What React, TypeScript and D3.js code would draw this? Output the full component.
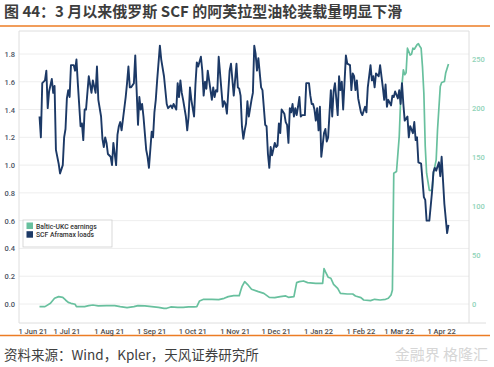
import { useEffect, useRef } from 'react'
import * as d3 from 'd3'

// SCF Aframax loads (left axis)
const scfLoads: [string, number][] = [
  ['2021-06-11', 1.35], ['2021-06-12', 1.2], ['2021-06-13', 1.59], ['2021-06-15', 1.61], ['2021-06-16', 1.68],
  ['2021-06-17', 1.41], ['2021-06-18', 1.53], ['2021-06-20', 1.62], ['2021-06-21', 1.52], ['2021-06-22', 1.57],
  ['2021-06-23', 1.11], ['2021-06-25', 1.01], ['2021-06-26', 0.94], ['2021-06-28', 1.0], ['2021-06-29', 1.2],
  ['2021-06-30', 1.26], ['2021-07-01', 1.48], ['2021-07-02', 1.54], ['2021-07-03', 1.49], ['2021-07-04', 1.72],
  ['2021-07-06', 1.72], ['2021-07-07', 1.68], ['2021-07-08', 1.76], ['2021-07-09', 1.59], ['2021-07-11', 1.28],
  ['2021-07-12', 1.3], ['2021-07-13', 1.18], ['2021-07-14', 1.4], ['2021-07-15', 1.4], ['2021-07-17', 1.64],
  ['2021-07-19', 1.52], ['2021-07-20', 1.61], ['2021-07-22', 1.52], ['2021-07-23', 1.71], ['2021-07-24', 1.47],
  ['2021-07-26', 1.35], ['2021-07-27', 1.19], ['2021-07-28', 1.13], ['2021-07-29', 1.2], ['2021-07-30', 1.16],
  ['2021-07-31', 1.08], ['2021-08-02', 1.06], ['2021-08-03', 1.0], ['2021-08-04', 1.16], ['2021-08-06', 1.0],
  ['2021-08-07', 1.22], ['2021-08-08', 1.28], ['2021-08-09', 1.31], ['2021-08-10', 1.25], ['2021-08-13', 1.49],
  ['2021-08-14', 1.59], ['2021-08-15', 1.71], ['2021-08-16', 1.56], ['2021-08-17', 1.56], ['2021-08-19', 1.59],
  ['2021-08-20', 1.79], ['2021-08-21', 1.54], ['2021-08-22', 1.29], ['2021-08-23', 1.49], ['2021-08-24', 1.4],
  ['2021-08-25', 1.44], ['2021-08-26', 1.35], ['2021-08-28', 1.11], ['2021-08-29', 1.06], ['2021-08-30', 0.98],
  ['2021-09-01', 1.24], ['2021-09-02', 1.2], ['2021-09-03', 1.38], ['2021-09-04', 1.47], ['2021-09-05', 1.61],
  ['2021-09-07', 1.86], ['2021-09-08', 1.76], ['2021-09-10', 1.64], ['2021-09-12', 1.44], ['2021-09-13', 1.41],
  ['2021-09-15', 1.43], ['2021-09-16', 1.41], ['2021-09-17', 1.44], ['2021-09-19', 1.4], ['2021-09-20', 1.59],
  ['2021-09-21', 1.49], ['2021-09-22', 1.61], ['2021-09-23', 1.52], ['2021-09-24', 1.47], ['2021-09-26', 1.35],
  ['2021-09-27', 1.25], ['2021-09-28', 1.35], ['2021-09-29', 1.56], ['2021-09-30', 1.47], ['2021-10-02', 1.35],
  ['2021-10-03', 1.58], ['2021-10-04', 1.74], ['2021-10-05', 1.71], ['2021-10-07', 1.78], ['2021-10-08', 1.68],
  ['2021-10-09', 1.5], ['2021-10-10', 1.6], ['2021-10-11', 1.55], ['2021-10-12', 1.68], ['2021-10-13', 1.61],
  ['2021-10-15', 1.47], ['2021-10-16', 1.56], ['2021-10-17', 1.49], ['2021-10-18', 1.54], ['2021-10-19', 1.53],
  ['2021-10-20', 1.78], ['2021-10-22', 1.54], ['2021-10-23', 1.42], ['2021-10-24', 1.46], ['2021-10-25', 1.44],
  ['2021-10-26', 1.37], ['2021-10-28', 1.68], ['2021-10-29', 1.73], ['2021-10-31', 1.5], ['2021-11-02', 1.73],
  ['2021-11-03', 1.56], ['2021-11-04', 1.55], ['2021-11-05', 1.5], ['2021-11-06', 1.28], ['2021-11-07', 1.19],
  ['2021-11-08', 1.25], ['2021-11-09', 1.3], ['2021-11-10', 1.46], ['2021-11-11', 1.35], ['2021-11-13', 1.47],
  ['2021-11-14', 1.52], ['2021-11-15', 1.86], ['2021-11-16', 1.8], ['2021-11-17', 1.68], ['2021-11-18', 1.77],
  ['2021-11-20', 1.56], ['2021-11-21', 1.54], ['2021-11-23', 1.29], ['2021-11-24', 1.28], ['2021-11-25', 1.08],
  ['2021-11-26', 0.98], ['2021-11-27', 1.13], ['2021-11-28', 1.07], ['2021-11-30', 1.16], ['2021-12-01', 1.13],
  ['2021-12-02', 1.14], ['2021-12-03', 1.3], ['2021-12-04', 1.23], ['2021-12-05', 1.4], ['2021-12-07', 1.37],
  ['2021-12-08', 1.31], ['2021-12-09', 1.29], ['2021-12-10', 1.16], ['2021-12-11', 1.41], ['2021-12-12', 1.38],
  ['2021-12-13', 1.44], ['2021-12-14', 1.35], ['2021-12-15', 1.41], ['2021-12-16', 1.36], ['2021-12-17', 1.42],
  ['2021-12-18', 1.49], ['2021-12-19', 1.35], ['2021-12-20', 1.36], ['2021-12-22', 1.36], ['2021-12-23', 1.59],
  ['2021-12-25', 1.59], ['2021-12-26', 1.5], ['2021-12-27', 1.44], ['2021-12-28', 1.44], ['2021-12-29', 1.4],
  ['2021-12-30', 1.32], ['2021-12-31', 1.41], ['2022-01-01', 1.25], ['2022-01-02', 1.42], ['2022-01-03', 1.06],
  ['2022-01-05', 1.23], ['2022-01-06', 1.26], ['2022-01-07', 1.17], ['2022-01-08', 1.2], ['2022-01-10', 1.54],
  ['2022-01-11', 1.35], ['2022-01-12', 1.53], ['2022-01-13', 1.59], ['2022-01-15', 1.36], ['2022-01-16', 1.64],
  ['2022-01-17', 1.54], ['2022-01-18', 1.6], ['2022-01-19', 1.4], ['2022-01-21', 1.79], ['2022-01-22', 1.73],
  ['2022-01-24', 1.72], ['2022-01-25', 1.54], ['2022-01-26', 1.66], ['2022-01-27', 1.64], ['2022-01-28', 1.54],
  ['2022-01-29', 1.61], ['2022-01-30', 1.48], ['2022-02-01', 1.38], ['2022-02-02', 1.36], ['2022-02-04', 1.42],
  ['2022-02-05', 1.38], ['2022-02-06', 1.56], ['2022-02-08', 1.72], ['2022-02-09', 1.61], ['2022-02-10', 1.64],
  ['2022-02-11', 1.56], ['2022-02-12', 1.66], ['2022-02-14', 1.64], ['2022-02-15', 1.72], ['2022-02-17', 1.56],
  ['2022-02-18', 1.47], ['2022-02-19', 1.58], ['2022-02-20', 1.42], ['2022-02-21', 1.47], ['2022-02-23', 1.43],
  ['2022-02-24', 1.5], ['2022-02-25', 1.49], ['2022-02-26', 1.53], ['2022-02-28', 1.48], ['2022-03-01', 1.54],
  ['2022-03-02', 1.44], ['2022-03-03', 1.59], ['2022-03-04', 1.44], ['2022-03-05', 1.32], ['2022-03-07', 1.35],
  ['2022-03-08', 1.2], ['2022-03-09', 1.28], ['2022-03-11', 1.23], ['2022-03-12', 1.31], ['2022-03-13', 1.18],
  ['2022-03-14', 1.2], ['2022-03-15', 1.02], ['2022-03-17', 1.01], ['2022-03-19', 0.77], ['2022-03-20', 0.75],
  ['2022-03-21', 0.6], ['2022-03-23', 0.6], ['2022-03-25', 0.81], ['2022-03-26', 0.95], ['2022-03-27', 0.98],
  ['2022-03-28', 0.96], ['2022-03-30', 1.02], ['2022-03-31', 0.92], ['2022-04-01', 1.06], ['2022-04-02', 0.89],
  ['2022-04-03', 0.72], ['2022-04-05', 0.51], ['2022-04-06', 0.57],
]

// Baltic-UKC earnings (right axis)
const balticEarnings: [string, number][] = [
  ['2021-06-11', -2.7], ['2021-06-15', -2.7], ['2021-06-19', 0.7], ['2021-06-22', 5.8], ['2021-06-25', 7.5],
  ['2021-06-28', 6.8], ['2021-06-30', 4.1], ['2021-07-02', 1.7], ['2021-07-04', 0.7], ['2021-07-07', -0.3],
  ['2021-07-08', -2.7], ['2021-07-11', -2.7], ['2021-07-14', -2.7], ['2021-07-17', -1.7], ['2021-07-20', -1.0],
  ['2021-07-24', -2.0], ['2021-07-30', -1.7], ['2021-08-05', -1.7], ['2021-08-09', -2.7], ['2021-08-14', -3.7],
  ['2021-08-19', -2.7], ['2021-08-22', -1.7], ['2021-08-27', -2.0], ['2021-09-01', -2.7], ['2021-09-06', -3.4],
  ['2021-09-10', -4.4], ['2021-09-12', -4.4], ['2021-09-15', -3.0], ['2021-09-20', -3.4], ['2021-09-24', -3.4],
  ['2021-09-28', -3.0], ['2021-10-02', -3.0], ['2021-10-04', -2.7], ['2021-10-06', 3.1], ['2021-10-09', 4.8],
  ['2021-10-15', 4.8], ['2021-10-20', 4.4], ['2021-10-24', 5.8], ['2021-10-27', 7.5], ['2021-10-31', 8.5],
  ['2021-11-04', 8.5], ['2021-11-05', 13.3], ['2021-11-06', 17.7], ['2021-11-08', 22.8], ['2021-11-10', 20.1],
  ['2021-11-13', 15.0], ['2021-11-18', 12.6], ['2021-11-22', 10.9], ['2021-11-26', 6.8], ['2021-11-30', 6.5],
  ['2021-12-04', 7.5], ['2021-12-08', 8.2], ['2021-12-10', 6.8], ['2021-12-14', 7.5], ['2021-12-16', 21.8],
  ['2021-12-18', 22.8], ['2021-12-21', 23.5], ['2021-12-24', 21.8], ['2021-12-30', 21.1], ['2022-01-04', 21.1],
  ['2022-01-05', 36.1], ['2022-01-06', 33.0], ['2022-01-08', 27.3], ['2022-01-10', 26.3], ['2022-01-12', 20.1],
  ['2022-01-15', 16.0], ['2022-01-17', 10.9], ['2022-01-22', 10.2], ['2022-01-26', 10.2], ['2022-01-28', 8.2],
  ['2022-02-01', 6.5], ['2022-02-03', 4.1], ['2022-02-08', 3.4], ['2022-02-11', 4.8], ['2022-02-15', 4.1],
  ['2022-02-19', 4.8], ['2022-02-21', 5.8], ['2022-02-23', 9.2], ['2022-02-24', 14.3], ['2022-02-25', 133.5],
  ['2022-02-27', 135.2], ['2022-03-01', 171], ['2022-03-02', 208], ['2022-03-04', 239], ['2022-03-05', 234],
  ['2022-03-06', 236], ['2022-03-07', 261], ['2022-03-09', 254], ['2022-03-10', 255], ['2022-03-11', 261],
  ['2022-03-12', 260], ['2022-03-14', 264.6], ['2022-03-15', 265.6], ['2022-03-16', 263], ['2022-03-17', 261],
  ['2022-03-18', 242], ['2022-03-19', 215], ['2022-03-20', 161], ['2022-03-21', 133.5], ['2022-03-23', 116],
  ['2022-03-25', 116], ['2022-03-26', 133.5], ['2022-03-28', 147], ['2022-03-29', 178], ['2022-03-31', 222],
  ['2022-04-01', 226], ['2022-04-03', 227], ['2022-04-04', 236], ['2022-04-06', 245],
]

const leftTicks = [0, 0.2, 0.4, 0.6, 0.8, 1.0, 1.2, 1.4, 1.6, 1.8]
const rightTicks = [0, 50, 100, 150, 200, 250]
const monthTicks = [
  '2021-06-01', '2021-07-01', '2021-08-01', '2021-09-01', '2021-10-01', '2021-11-01',
  '2021-12-01', '2022-01-01', '2022-02-01', '2022-03-01', '2022-04-01',
]
const legendItems = ['Baltic-UKC earnings', 'SCF Aframax loads']

const title = '图 44：3 月以来俄罗斯 SCF 的阿芙拉型油轮装载量明显下滑'
const source = '资料来源：Wind，Kpler，天风证券研究所'

const BLUE = '#1c3966'
const GREEN = '#68c09e'

export default function App() {
  const svgRef = useRef<SVGSVGElement>(null)

  useEffect(() => {
    if (!svgRef.current) return
    document.body.style.margin = '0'
    const width = 494
    const height = 367

    const svg = d3.select(svgRef.current)
    svg.selectAll('*').remove()
    svg.attr('width', width).attr('height', height)

    const parse = d3.timeParse('%Y-%m-%d')
    const plot = { left: 19, right: 469, top: 31, bottom: 323 }

    const x = d3.scaleTime()
      .domain([new Date(2021, 4, 27), new Date(2022, 3, 21)])
      .range([plot.left, plot.right])
    const yLeft = d3.scaleLinear().domain([0, 1.8]).range([304, 54])
    const yRight = d3.scaleLinear().domain([0, 250]).range([304, 59])

    // title + orange rules
    svg.append('text')
      .attr('x', 4).attr('y', 17)
      .attr('font-family', '"Noto Sans CJK SC", sans-serif')
      .attr('font-size', 15).attr('font-weight', 700)
      .attr('fill', '#3d3d3d')
      .text(title)
    svg.append('line')
      .attr('x1', 0).attr('x2', 490).attr('y1', 26).attr('y2', 26)
      .attr('stroke', '#ec7c24').attr('stroke-width', 1.5)
    svg.append('line')
      .attr('x1', 0).attr('x2', 490).attr('y1', 335.5).attr('y2', 335.5)
      .attr('stroke', '#ec7c24').attr('stroke-width', 1.5)

    // gridlines
    svg.append('g').selectAll('line')
      .data(leftTicks)
      .enter().append('line')
      .attr('x1', plot.left).attr('x2', plot.right)
      .attr('y1', d => yLeft(d)).attr('y2', d => yLeft(d))
      .attr('stroke', '#eeeeee').attr('stroke-width', 1)

    // frame
    const frame = svg.append('g').attr('stroke', '#dedede').attr('stroke-width', 1)
    frame.append('line').attr('x1', plot.left).attr('x2', plot.right).attr('y1', plot.top).attr('y2', plot.top)
    frame.append('line').attr('x1', plot.left).attr('x2', plot.left).attr('y1', plot.top).attr('y2', plot.bottom)
    frame.append('line').attr('x1', plot.right).attr('x2', plot.right).attr('y1', plot.top).attr('y2', plot.bottom)
    frame.append('line').attr('x1', plot.left).attr('x2', 486).attr('y1', plot.bottom).attr('y2', plot.bottom)

    // left axis labels
    svg.append('g').selectAll('text')
      .data(leftTicks)
      .enter().append('text')
      .attr('x', 15).attr('y', d => yLeft(d) + 3)
      .attr('text-anchor', 'end')
      .attr('font-family', 'Roboto, sans-serif').attr('font-size', 7.5).attr('font-weight', 500)
      .attr('fill', '#4a5363')
      .text(d => d3.format('.1f')(d))

    // right axis labels
    svg.append('g').selectAll('text')
      .data(rightTicks)
      .enter().append('text')
      .attr('x', 472).attr('y', d => yRight(d) + 3)
      .attr('font-family', 'Roboto, sans-serif').attr('font-size', 7.5).attr('font-weight', 500)
      .attr('fill', '#8fd3b8')
      .text(d => String(d))

    // x labels, first one kept inside the frame
    const fmt = d3.timeFormat('%-d %b %y')
    svg.append('g').selectAll('text')
      .data(monthTicks.map(d => parse(d) as Date))
      .enter().append('text')
      .attr('x', d => Math.max(x(d), 33))
      .attr('y', 334)
      .attr('text-anchor', 'middle')
      .attr('font-family', 'Roboto, sans-serif').attr('font-size', 7.5).attr('font-weight', 500)
      .attr('fill', '#4d4d4d')
      .text(d => fmt(d))

    // lines
    const greenLine = d3.line<[string, number]>()
      .x(d => x(parse(d[0]) as Date))
      .y(d => yRight(d[1]))
    const blueLine = d3.line<[string, number]>()
      .x(d => x(parse(d[0]) as Date))
      .y(d => yLeft(d[1]))

    svg.append('path')
      .datum(balticEarnings)
      .attr('d', greenLine)
      .attr('fill', 'none')
      .attr('stroke', GREEN).attr('stroke-width', 1.7)
      .attr('stroke-linejoin', 'round')
    svg.append('path')
      .datum(scfLoads)
      .attr('d', blueLine)
      .attr('fill', 'none')
      .attr('stroke', BLUE).attr('stroke-width', 1.9)
      .attr('stroke-linejoin', 'round')

    // legend
    const legend = svg.append('g').attr('transform', 'translate(23,220)')
    legend.append('rect')
      .attr('width', 89).attr('height', 27)
      .attr('fill', '#fff').attr('stroke', '#cfcfcf').attr('stroke-width', 0.8)
    legendItems.forEach((label, i) => {
      legend.append('rect')
        .attr('x', 3.5).attr('y', 2.5 + i * 8.7)
        .attr('width', 6.5).attr('height', 6.5)
        .attr('fill', i === 0 ? GREEN : BLUE)
      legend.append('text')
        .attr('x', 13).attr('y', 8.5 + i * 8.7)
        .attr('font-family', 'Roboto, sans-serif').attr('font-size', 6.8).attr('font-weight', 500)
        .attr('fill', '#333')
        .text(label)
    })

    // source line
    svg.append('text')
      .attr('x', 4).attr('y', 360)
      .attr('font-family', '"Noto Sans CJK SC", sans-serif')
      .attr('font-size', 13.5)
      .attr('fill', '#404040')
      .text(source)

    // faint watermark
    svg.append('text')
      .attr('x', 488).attr('y', 360)
      .attr('text-anchor', 'end')
      .attr('font-family', '"Noto Sans CJK SC", sans-serif')
      .attr('font-size', 15)
      .attr('fill', '#d6d6d6')
      .text('金融界 格隆汇')
  }, [])

  return <svg ref={svgRef} style={{ display: 'block' }} />
}
